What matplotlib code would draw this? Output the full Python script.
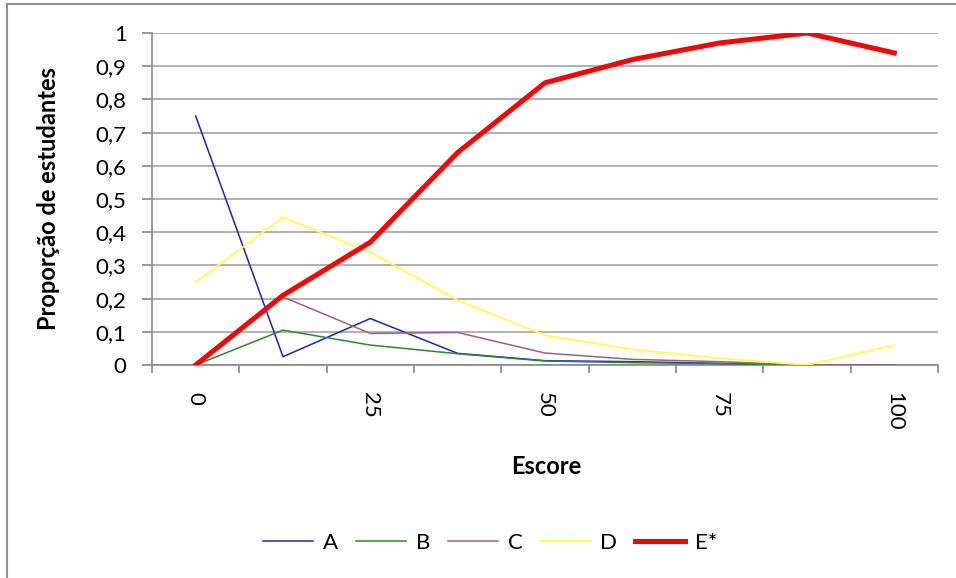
import matplotlib
matplotlib.use("Agg")
import matplotlib.pyplot as plt
from matplotlib.lines import Line2D
import numpy as np

plt.rcParams['font.family'] = ['Lato', 'DejaVu Sans']

scores = ["0", "12,5", "25", "37,5", "50", "62,5", "75", "87,5", "100"]
shown_labels = ["0", "25", "50", "75", "100"]
serie_A = [0.75, 0.025, 0.14, 0.035, 0.013, 0.01, 0.005, 0.0, 0.0]
serie_B = [0.0, 0.105, 0.06, 0.034, 0.012, 0.007, 0.004, 0.0, 0.0]
serie_C = [0.0, 0.205, 0.095, 0.098, 0.036, 0.017, 0.01, 0.0, 0.0]
serie_D = [0.25, 0.445, 0.34, 0.195, 0.09, 0.047, 0.02, 0.0, 0.06]
serie_E = [0.0, 0.21, 0.37, 0.64, 0.85, 0.92, 0.97, 1.0, 0.94]
names = ["A", "B", "C", "D", "E*"]
colors = ["#1f1fd0", "#2a8a2a", "#a06080", "#ffff4a", "#ff0000"]
widths = [1.1, 1.1, 1.1, 1.3, 3.6]

FS_TICK = 16
FS_LAB = 17

W, H = 956, 578
fig = plt.figure(figsize=(W/100, H/100), dpi=100)
ax = fig.add_axes([152/W, 1-365/H, (938-152)/W, (365-33)/H])

x = np.arange(len(scores))
series = [serie_A, serie_B, serie_C, serie_D, serie_E]
for s, n, c, lw in zip(series, names, colors, widths):
    ax.plot(x, s, color=c, lw=lw, label=n, solid_joinstyle='round', zorder=3)

ax.set_xlim(-0.5, len(scores)-0.5)
ax.set_ylim(0, 1)
yt = np.round(np.arange(0, 1.01, 0.1), 1)
ax.set_yticks(yt)
ax.set_yticklabels(["0" if v == 0 else ("1" if v == 1 else f"{v:.1f}".replace(".", ",")) for v in yt], fontsize=FS_TICK)
ax.yaxis.grid(True, color="#a4a4a4", lw=1.2)
ax.set_axisbelow(True)

ax.set_xticks(x[::2])
ax.set_xticklabels(shown_labels, rotation=-90, fontsize=FS_TICK, va='top', ha='center')
ax.tick_params(axis='x', which='major', length=0, pad=19.5)
ax.set_xticks(np.arange(-0.5, len(scores), 1), minor=True)
ax.tick_params(axis='x', which='minor', length=6, color="#888888", width=1.2)
ax.tick_params(axis='y', length=7.2, color="#888888", width=1.2, pad=11)

for sp in ['top', 'right']:
    ax.spines[sp].set_visible(False)
for sp in ['left', 'bottom']:
    ax.spines[sp].set_color("#888888")
    ax.spines[sp].set_linewidth(1.2)

ax.set_ylabel("Proporção de estudantes", fontsize=FS_LAB, fontweight='bold')
ax.yaxis.set_label_coords((60-152)/(938-152), 0.5)
fig.text(546/W, 1-467/H, "Escore", fontsize=FS_LAB, fontweight='bold', ha='center', va='center')

leg = fig.legend(*ax.get_legend_handles_labels(), loc='center', bbox_to_anchor=(490/W, 1-543/H),
                 ncol=5, frameon=False, fontsize=FS_TICK, handlelength=2.25, columnspacing=0.8,
                 handletextpad=0.45)

fig.add_artist(Line2D([7/W, 7/W], [0, 1-3.5/H], color="#909090", lw=1.5, transform=fig.transFigure))
fig.add_artist(Line2D([7/W, 1], [1-3.5/H, 1-3.5/H], color="#909090", lw=1.5, transform=fig.transFigure))

fig.savefig("out.png", dpi=100)
